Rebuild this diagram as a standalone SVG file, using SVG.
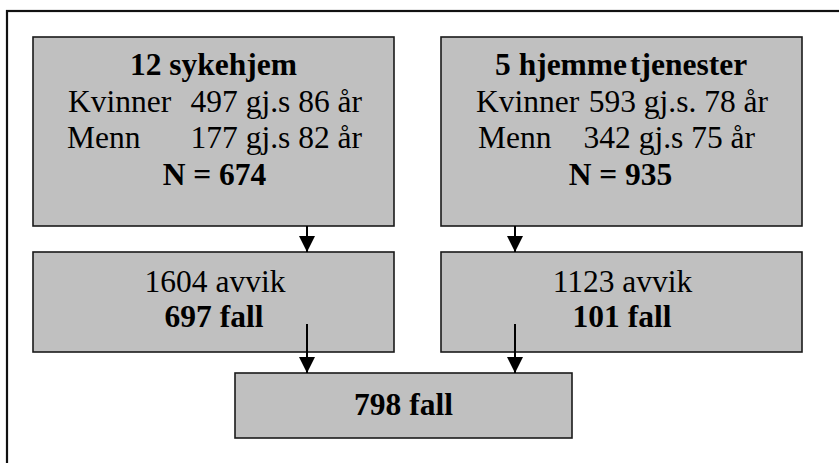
<svg xmlns="http://www.w3.org/2000/svg" width="839" height="463" viewBox="0 0 839 463">
  <style>
    .box { fill: #c0c0c0; stroke: #1a1a1a; stroke-width: 1.6; }
    .frame { fill: none; stroke: #111; stroke-width: 2.2; }
    .t { font-family: "Liberation Serif", "Times New Roman", serif; font-size: 31.5px; fill: #000; }
    .c { text-anchor: middle; }
    .b { font-weight: bold; }
    .edge { stroke: #000; stroke-width: 2; fill: none; }
  </style>
  <defs>
    <marker id="arrow" viewBox="0 0 16 17" refX="16" refY="8" markerWidth="16" markerHeight="17" markerUnits="userSpaceOnUse" orient="auto">
      <path d="M0,0 L16,8 L0,16 Z" fill="#000"/>
    </marker>
  </defs>

  <rect width="839" height="463" fill="#fff"/>
  <!-- outer frame, only top and left edges fall inside the canvas -->
  <rect class="frame" x="7" y="11" width="900" height="520"/>

  <g id="sykehjem">
    <rect class="box" x="33" y="37" width="361" height="189"/>
    <text class="t b c" x="213.5" y="75">12 sykehjem</text>
    <text class="t" y="112"><tspan x="68">Kvinner</tspan><tspan x="362" text-anchor="end">497 gj.s 86 år</tspan></text>
    <text class="t" y="148"><tspan x="67">Menn</tspan><tspan x="362" text-anchor="end">177 gj.s 82 år</tspan></text>
    <text class="t b c" x="214.5" y="185">N = 674</text>
  </g>

  <g id="hjemmetjenester">
    <rect class="box" x="441" y="37" width="361" height="189"/>
    <text class="t b" x="495" y="75">5 hjemme<tspan dx="-5"> tjenester</tspan></text>
    <text class="t" y="112"><tspan x="476">Kvinner</tspan><tspan x="768" text-anchor="end">593 gj.s. 78 år</tspan></text>
    <text class="t" y="148"><tspan x="478">Menn</tspan><tspan x="755" text-anchor="end">342 gj.s 75 år</tspan></text>
    <text class="t b c" x="620.5" y="185">N = 935</text>
  </g>

  <g id="avvik-sykehjem">
    <rect class="box" x="33" y="252" width="361" height="100"/>
    <text class="t c" x="215" y="292">1604 avvik</text>
    <text class="t b c" x="214" y="327">697 fall</text>
  </g>

  <g id="avvik-hjemmetjenester">
    <rect class="box" x="441" y="252" width="361" height="100"/>
    <text class="t c" x="622.5" y="292">1123 avvik</text>
    <text class="t b c" x="622" y="327">101 fall</text>
  </g>

  <g id="fall-total">
    <rect class="box" x="235" y="373" width="337" height="65"/>
    <text class="t b c" x="403.5" y="415">798 fall</text>
  </g>

  <g id="connectors">
    <line class="edge" x1="307" y1="226" x2="307" y2="252" marker-end="url(#arrow)"/>
    <line class="edge" x1="515" y1="226" x2="515" y2="252" marker-end="url(#arrow)"/>
    <line class="edge" x1="307" y1="324" x2="307" y2="373" marker-end="url(#arrow)"/>
    <line class="edge" x1="515" y1="324" x2="515" y2="373" marker-end="url(#arrow)"/>
  </g>
</svg>
